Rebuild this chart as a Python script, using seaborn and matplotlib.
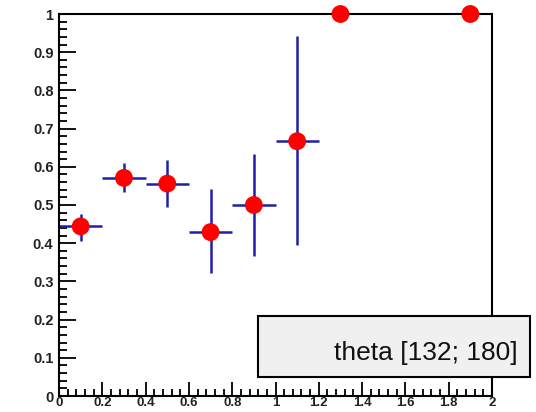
import matplotlib
matplotlib.use("Agg")
import matplotlib.pyplot as plt
import seaborn as sns
import pandas as pd
from matplotlib.ticker import MultipleLocator, FixedFormatter, FixedLocator
from matplotlib.patches import Rectangle

sns.set_style("white")
plt.rcParams['font.family'] = ['Liberation Sans', 'DejaVu Sans']

# data
x_vals = [0.1, 0.3, 0.5, 0.7, 0.9, 1.1, 1.3, 1.9]
y_vals = [0.444, 0.571, 0.556, 0.429, 0.500, 0.667, 1.0, 1.0]
y_err_low = [0.037, 0.037, 0.062, 0.107, 0.134, 0.272, 0.0, 0.0]
y_err_high = [0.032, 0.040, 0.062, 0.112, 0.134, 0.275, 0.0, 0.0]
x_err = [0.1, 0.1, 0.1, 0.1, 0.1, 0.1, 0.0, 0.0]
x_ticks = [0, 0.2, 0.4, 0.6, 0.8, 1, 1.2, 1.4, 1.6, 1.8, 2]
x_tick_labels = ["0", "0.2", "0.4", "0.6", "0.8", "1", "1.2", "1.4", "1.6", "1.8", "2"]
y_ticks = [0, 0.1, 0.2, 0.3, 0.4, 0.5, 0.6, 0.7, 0.8, 0.9, 1]
y_tick_labels = ["0", "0.1", "0.2", "0.3", "0.4", "0.5", "0.6", "0.7", "0.8", "0.9", "1"]
legend_text = "theta [132; 180]"

df = pd.DataFrame({"x": x_vals, "y": y_vals})

fig = plt.figure(figsize=(5.36, 4.12), dpi=100)
ax = fig.add_axes([59/536, 16/412, (492-59)/536, (396-14)/412])

ax.errorbar(x_vals, y_vals, xerr=x_err, yerr=[y_err_low, y_err_high],
            fmt='none', ecolor='#1f1fa8', elinewidth=1.8, capsize=0, zorder=2)
sns.scatterplot(data=df, x="x", y="y", ax=ax, color='#ff0000', s=165,
                edgecolor='none', zorder=3, clip_on=False, legend=False)

ax.set_xlim(0, 2)
ax.set_ylim(0, 1)
ax.set_xlabel("")
ax.set_ylabel("")
ax.xaxis.set_major_locator(FixedLocator(x_ticks))
ax.xaxis.set_major_formatter(FixedFormatter(x_tick_labels))
ax.yaxis.set_major_locator(FixedLocator(y_ticks))
ax.yaxis.set_major_formatter(FixedFormatter(y_tick_labels))
ax.xaxis.set_minor_locator(MultipleLocator(0.04))
ax.yaxis.set_minor_locator(MultipleLocator(0.02))
ax.tick_params(axis='both', which='major', direction='in', length=10, width=1.3,
               color='black', labelsize=10.5, pad=3, top=False, right=False,
               left=True, bottom=True)
ax.tick_params(axis='both', which='minor', direction='in', length=5, width=1.3,
               color='black', top=False, right=False, left=True, bottom=True)
ax.tick_params(axis='x', which='major', labelsize=9.5, pad=1)
ax.tick_params(axis='y', which='major', length=12, pad=4)
ax.tick_params(axis='y', which='minor', length=6)
for lab in ax.get_xticklabels() + ax.get_yticklabels():
    lab.set_fontweight('bold')
    lab.set_color('#222222')
for sp in ax.spines.values():
    sp.set_visible(True)
    sp.set_color('black')
    sp.set_linewidth(1.5)
    sp.set_zorder(2.5)

# legend box
rect = Rectangle((258/536, (412-377)/412), (530-258)/536, 61/412,
                 transform=fig.transFigure, facecolor='#f0f0f0',
                 edgecolor='black', linewidth=1.5, zorder=5)
fig.patches.append(rect)
fig.text(518/536, (412-353)/412, legend_text, ha='right', va='center',
         fontsize=19, color='#111111', zorder=6)

fig.savefig("out.png", dpi=100)
